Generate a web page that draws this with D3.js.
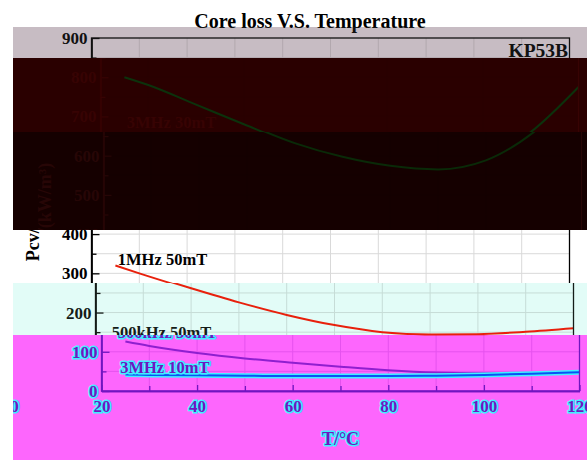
<!DOCTYPE html>
<meta charset="utf-8">
<style>
  body {margin: 0; background: #fff;}
  svg {display: block;}
</style>
<svg width="587" height="460"></svg>
<script src="https://d3js.org/d3.v7.min.js"></script>
<script>

// data
var temps = [25, 30, 40, 50, 60, 70, 80, 90, 100, 110, 120];
var loss3M30 = [800, 780, 730, 680, 632, 597, 574, 565, 588, 660, 775];
var loss1M50 = [320, 300, 262, 226, 194, 168, 150, 144, 145, 151, 160];
var loss500k50 = [126, 115, 97, 83, 72, 62, 53, 47, 45, 46, 48];
var loss3M10 = [42, 41, 40, 39, 38, 38, 38, 39, 41, 44, 48];
var seriesNames = ["3MHz 30mT", "1MHz 50mT", "500kHz 50mT", "3MHz 10mT"];
var labelT = [25.5, 25.5, 23.4, 23.9];
var labelV = [670, 321, 135, 46];
var xTicks = [20, 40, 60, 80, 100, 120];
var yTicks = [0, 100, 200, 300, 400, 500, 600, 700, 800, 900];

var series = [loss3M30, loss1M50, loss500k50, loss3M10];

var svg = d3.select("svg"),
    width = +svg.attr("width"),
    height = +svg.attr("height");

var x = d3.scaleLinear().domain([20, 120]).range([91.5, 569.5]);
var y = d3.scaleLinear().domain([0, 900]).range([391, 38]);

var line = d3.line()
    .x(function(d, i) { return x(temps[i]); })
    .y(function(d) { return y(d); })
    .curve(d3.curveMonotoneX);

var serif = "'Liberation Serif', 'Times New Roman', serif";

// colour sets for the plain chart and for each tinted strip
var palN = {bg: "#fff", ink: "#000", grid: "#d9d9d9", colors: ["#1e8c1e", "#e8200c", "#9020cc", "#0a50f5"]};
var palA = {bg: "#c7bcc3", ink: "#111", grid: "#b2a8ae", colors: palN.colors};
var palB = {bg: "#2a0000", ink: "#370303", grid: "#2a0000", colors: ["#0c320c", "#340202", "#340202", "#340202"]};
var palB2 = {bg: "#150000", ink: "#270606", grid: "#150000", colors: ["#0a2a08", "#220404", "#220404", "#220404"]};
var palC = {bg: "#e2fcf7", ink: "#141c18", grid: "#c6dcd7", colors: ["#1e8c1e", "#e8200c", "#9020cc", "#0a50f5"]};
var palD = {bg: "#fd66fd", ink: "#7016c0", grid: "#e552ee", halo: "#3ff0ff", colors: ["#7016c0", "#e8200c", "#8f1fcf", "#0a50f5"]};

function txt(g, p, s, xx, yy, size, anchor) {
  var t = g.append("text")
      .attr("x", xx).attr("y", yy)
      .attr("font-family", serif)
      .attr("font-weight", "bold")
      .attr("font-size", size)
      .attr("text-anchor", anchor || "start")
      .attr("fill", p.ink)
      .text(s);
  if (p.halo) t.attr("stroke", p.halo).attr("stroke-width", 3).attr("paint-order", "stroke").attr("stroke-linejoin", "round");
  return t;
}

function styleAxis(a, p) {
  a.attr("font-family", serif).attr("font-size", 17).attr("font-weight", "bold");
  a.selectAll("path, line").attr("stroke", p.ink).attr("stroke-width", 1.3);
  var t = a.selectAll("text").attr("fill", p.ink);
  if (p.halo) t.attr("stroke", p.halo).attr("stroke-width", 3).attr("paint-order", "stroke");
}

function draw(g, p) {
  var grid = g.append("g").attr("stroke", p.grid).attr("stroke-width", 1);
  grid.selectAll(null).data(d3.range(30, 120, 10)).enter().append("line")
      .attr("x1", function(d) { return x(d); }).attr("x2", function(d) { return x(d); })
      .attr("y1", y(0)).attr("y2", y(900));
  grid.selectAll(null).data(d3.range(50, 900, 50)).enter().append("line")
      .attr("x1", x(20)).attr("x2", x(120))
      .attr("y1", function(d) { return y(d); }).attr("y2", function(d) { return y(d); });

  series.forEach(function(s, i) {
    if (p.halo && i === 3) {
      g.append("path").attr("d", line(s)).attr("fill", "none")
          .attr("stroke", p.halo).attr("stroke-width", 5);
    }
    g.append("path").attr("d", line(s)).attr("fill", "none")
        .attr("stroke", p.colors[i]).attr("stroke-width", 2);
  });

  g.append("rect")
      .attr("x", x(20)).attr("y", y(900))
      .attr("width", x(120) - x(20)).attr("height", y(0) - y(900))
      .attr("fill", "none").attr("stroke", p.ink).attr("stroke-width", 1.3);

  var ay = g.append("g").attr("transform", "translate(" + x(20) + ",0)")
      .call(d3.axisLeft(y).tickValues(yTicks).tickSize(-8).tickSizeOuter(0).tickPadding(4));
  styleAxis(ay, p);
  var ay2 = g.append("g").attr("transform", "translate(" + x(20) + ",0)")
      .call(d3.axisLeft(y).tickValues(d3.range(50, 900, 100)).tickSize(-5).tickSizeOuter(0).tickFormat(""));
  styleAxis(ay2, p);
  var ax = g.append("g").attr("transform", "translate(0," + y(0) + ")")
      .call(d3.axisBottom(x).tickValues(xTicks).tickSize(-6).tickSizeOuter(0).tickPadding(9));
  styleAxis(ax, p);
  var ax2 = g.append("g").attr("transform", "translate(0," + y(0) + ")")
      .call(d3.axisBottom(x).tickValues(d3.range(30, 120, 20)).tickSize(-5).tickSizeOuter(0).tickFormat(""));
  styleAxis(ax2, p);

  seriesNames.forEach(function(n, i) {
    txt(g, p, n, x(labelT[i]), y(labelV[i]), 16.5);
  });
  txt(g, p, "KP53B", x(119.7), y(852), 19.5, "end");
  txt(g, p, "Core loss V.S. Temperature", 310, 28, 20, "middle");
  txt(g, p, "T/°C", (x(20) + x(120)) / 2, 445, 18, "middle");
  txt(g, p, "Pcv/(kW/m³)", 0, 0, 18, "middle")
      .attr("transform", "translate(38.5,212) rotate(-90)");
}

// drop texts of a layer that cannot be seen through its window(s)
function prune(g, boxes) {
  g.selectAll("text").each(function() {
    var r = this.getBoundingClientRect();
    var seen = boxes.some(function(b) {
      return r.right > b[0] && r.left < b[2] && r.bottom > b[1] && r.top < b[3];
    });
    if (!seen) d3.select(this).remove();
  });
}

// plain chart underneath
svg.append("rect").attr("width", width).attr("height", height).attr("fill", palN.bg);
var base = svg.append("g");
draw(base, palN);

// tinted, shifted strips laid over it
var wrapW = 574, left = width - wrapW;
var bands = [
  {y0: 27, y1: 58, dx: 0, pal: palA},
  {y0: 58, y1: 132, dx: 9, pal: palB},
  {y0: 132, y1: 230, dx: 12, pal: palB2},
  {y0: 283, y1: 335, dx: 4, pal: palC},
  {y0: 335, y1: 460, dx: 10, pal: palD}
];

prune(base, [[0, 0, width, 27], [0, 230, width, 283], [0, 0, left, height]]);

var defs = svg.append("defs");
bands.forEach(function(b, i) {
  defs.append("clipPath").attr("id", "band" + i)
    .append("rect").attr("x", left).attr("y", b.y0)
      .attr("width", wrapW).attr("height", b.y1 - b.y0);
  var g = svg.append("g").attr("clip-path", "url(#band" + i + ")");
  g.append("rect").attr("x", 0).attr("y", b.y0).attr("width", width).attr("height", b.y1 - b.y0)
      .attr("fill", b.pal.bg);
  var offs = b.dx > 0 ? [b.dx, b.dx - wrapW] : [b.dx];
  offs.forEach(function(off) {
    var layer = g.append("g").attr("transform", "translate(" + off + ",0)");
    draw(layer, b.pal);
    prune(layer, [[left, b.y0, width, b.y1]]);
  });
});

</script>
